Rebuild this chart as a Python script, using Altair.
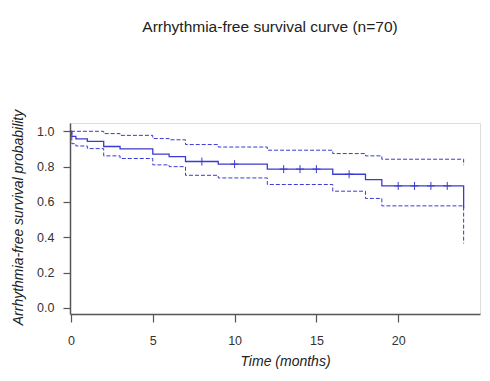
import altair as alt
import pandas as pd

# Kaplan-Meier step points (time in months)
times = [0, 0.05, 0.3, 1, 2, 3, 5, 6, 7, 9, 12, 16, 18, 19, 24]
surv = [1.0, 0.971, 0.957, 0.943, 0.914, 0.900, 0.871, 0.857, 0.829, 0.814, 0.786, 0.757, 0.727, 0.691, 0.565]
upper = [1.0, 1.0, 1.0, 1.0, 0.987, 0.977, 0.959, 0.952, 0.925, 0.911, 0.893, 0.874, 0.861, 0.842, 0.808]
lower = [1.0, 0.930, 0.917, 0.902, 0.861, 0.846, 0.810, 0.800, 0.751, 0.736, 0.699, 0.661, 0.620, 0.578, 0.365]

# censored observations (+ marks)
cens_times = [8, 10, 13, 14, 15, 17, 20, 21, 22, 23]
cens_surv = [0.829, 0.814, 0.786, 0.786, 0.786, 0.757, 0.691, 0.691, 0.691, 0.691]

x_ticks = [0, 5, 10, 15, 20]
y_ticks = [0.0, 0.2, 0.4, 0.6, 0.8, 1.0]

title_text = "Arrhythmia-free survival curve (n=70)"
x_title = "Time (months)"
y_title = "Arrhythmia-free survival probability"

km = pd.DataFrame({"time": times, "surv": surv, "upper": upper, "lower": lower})
cens = pd.DataFrame({"time": cens_times, "surv": cens_surv})

BLUE = "#3b3bd1"
FONT = "Liberation Sans"

xscale = alt.Scale(domain=[-0.06, 25.0], nice=False, zero=False)
yscale = alt.Scale(domain=[-0.034, 1.047], nice=False, zero=False)

xaxis = alt.Axis(values=x_ticks, title=x_title, titleFontStyle="italic",
                 titleFont=FONT, titleFontSize=14, titleFontWeight="normal",
                 titleColor="#222", titleX=215, titleY=47, titleBaseline="middle",
                 titleAnchor="start", titleAlign="center",
                 labelFont=FONT, labelFontSize=12.5, labelColor="#333",
                 labelPadding=12, tickSize=8, tickColor="#555", tickWidth=1.2,
                 domainColor="#555", domainWidth=1.5, grid=False, labelFlush=False,
                 labelOverlap=False)
yaxis = alt.Axis(values=y_ticks, format=".1f", title=y_title, titleFontStyle="italic",
                 titleFont=FONT, titleFontSize=14, titleFontWeight="normal",
                 titleColor="#222", titleX=-52, titleY=94, titleBaseline="middle",
                 titleAnchor="start", titleAlign="center", titleAngle=270,
                 labelFont=FONT, labelFontSize=12.5, labelColor="#333",
                 labelPadding=9, tickSize=7, tickColor="#555", tickWidth=1.2,
                 domainColor="#555", domainWidth=1.5, grid=False,
                 labelOverlap=False, labelFlush=False)

X = lambda f: alt.X(f, scale=xscale, axis=xaxis)
Y = lambda f: alt.Y(f, scale=yscale, axis=yaxis)

base = alt.Chart(km)

main = base.mark_line(interpolate="step-after", color=BLUE, strokeWidth=1.3).encode(
    x=X("time:Q"), y=Y("surv:Q"))
up = base.mark_line(interpolate="step-after", color=BLUE, strokeWidth=1,
                    strokeDash=[4, 2]).encode(x=X("time:Q"), y=Y("upper:Q"))
lo = base.mark_line(interpolate="step-after", color=BLUE, strokeWidth=1,
                    strokeDash=[4, 2]).encode(x=X("time:Q"), y=Y("lower:Q"))

marks = alt.Chart(cens).mark_point(shape="M0,-1V1M-1,0H1", size=64, filled=False,
                                   color=BLUE, strokeWidth=1, opacity=1).encode(
    x=X("time:Q"), y=Y("surv:Q"))

title = alt.Chart(pd.DataFrame({"t": [title_text]})).mark_text(
    font=FONT, fontSize=15.5, color="#222", baseline="middle", align="center"
).encode(text="t:N", x=alt.value(200), y=alt.value(-96))

chart = alt.layer(main, up, lo, marks, title).properties(
    width=410, height=191,
    autosize=alt.AutoSizeParams(type="none"),
    padding={"left": 62, "top": 115, "right": 1, "bottom": 58},
).configure_view(stroke="#777", strokeWidth=1.3).configure(background="white")

chart.save("out.html", embed_options={"renderer": "svg", "actions": False})
